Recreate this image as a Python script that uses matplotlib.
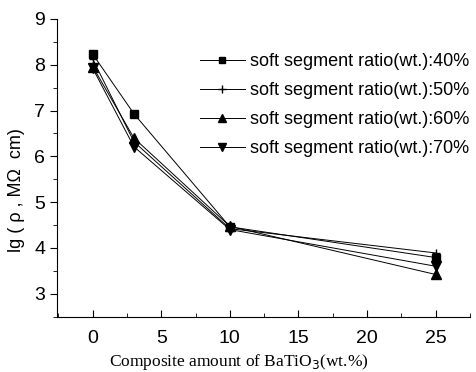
import numpy as np
import matplotlib
matplotlib.use("Agg")
import matplotlib.pyplot as plt
from matplotlib.ticker import MultipleLocator

# ----------------
# Chart data
# ----------------

amount = [0, 3, 10, 25]
ratio_40 = [8.23, 6.93, 4.46, 3.79]
ratio_50 = [8.12, 6.32, 4.42, 3.89]
ratio_60 = [7.96, 6.40, 4.47, 3.42]
ratio_70 = [7.92, 6.21, 4.40, 3.60]
labels = [
    "soft segment ratio(wt.):40%",
    "soft segment ratio(wt.):50%",
    "soft segment ratio(wt.):60%",
    "soft segment ratio(wt.):70%",
]

plt.rcParams["font.family"] = ["Liberation Sans", "DejaVu Sans"]

fig = plt.figure(figsize=(4.76, 3.72), dpi=100)
ax = fig.add_axes([0.12, 0.149, 0.867, 0.80])

markers = ["s", "+", "^", "v"]
sizes = [5.5, 6, 6.5, 6.5]
for series, label, mk, ms in zip((ratio_40, ratio_50, ratio_60, ratio_70), labels, markers, sizes):
    ax.plot(amount, series, color="black", lw=0.7, marker=mk, ms=ms,
            mew=1.0, label=label)

ax.set_xlim(-2.6, 27.5)
ax.set_ylim(2.5, 9)
ax.xaxis.set_major_locator(MultipleLocator(5))
ax.xaxis.set_minor_locator(MultipleLocator(2.5))
ax.yaxis.set_major_locator(MultipleLocator(1))
ax.yaxis.set_minor_locator(MultipleLocator(0.5))
ax.tick_params(axis="x", which="both", direction="in", labelsize=14, pad=10)
ax.tick_params(axis="y", which="both", direction="out", labelsize=14)
ax.tick_params(which="major", length=5)
ax.tick_params(which="minor", length=3)
ax.spines["top"].set_visible(False)
ax.spines["right"].set_visible(False)

# axis titles placed by hand, as in the scanned figure
fig.text(17 / 476, 1 - 190 / 372, "lg ( \u03c1 , M\u03a9  cm)", fontsize=13,
         rotation=90, ha="center", va="center")
fig.text(239 / 476, 1 - 362 / 372, r"Composite amount of BaTiO$_3$(wt.%)",
         fontsize=12.5, family="Liberation Serif", ha="center", va="center")

ax.legend(loc="upper right", bbox_to_anchor=(1.0, 0.885), frameon=False,
          fontsize=13, handlelength=2.5, handletextpad=0.3, labelspacing=0.66,
          borderaxespad=0.0, borderpad=0.0, markerscale=0.85)

fig.savefig("out.png", dpi=100)
